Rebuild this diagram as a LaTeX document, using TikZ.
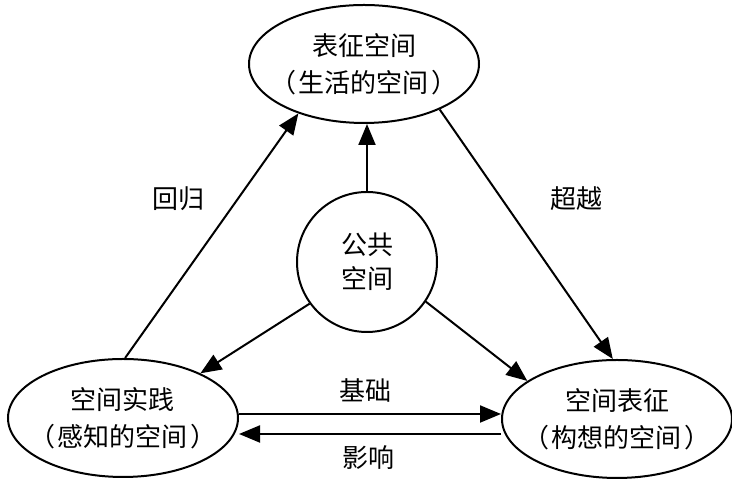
\documentclass[tikz,border=0pt]{standalone}
\usepackage{fontspec}
\setmainfont{Noto Sans CJK SC}
\usetikzlibrary{shapes.geometric,arrows.meta}
\newcommand{\lp}{（\kern2.5pt}
\newcommand{\rp}{\kern2.5pt）}
\begin{document}
\begin{tikzpicture}[x=1pt,y=1pt,
  every node/.style={font=\fontsize{26}{37}\selectfont},
  oval/.style={draw, ellipse, line width=2pt, minimum width=230pt, minimum height=118pt, inner xsep=-20pt, inner ysep=0pt, align=center},
  hub/.style={draw, circle, line width=2pt, minimum size=140pt, inner sep=0pt, align=center, font=\fontsize{26}{34}\selectfont},
  arr/.style={line width=2pt, -{Triangle[length=21pt,width=17pt]}},
  lbl/.style={inner sep=0pt}]
\useasboundingbox (0,0) rectangle (732,486);
\node[oval] (top) at (364,422) {表征空间\\\lp 生活的空间\rp};
\node[oval] (left) at (123,68) {空间实践\\\lp 感知的空间\rp};
\node[oval] (right) at (617,67) {空间表征\\\lp 构想的空间\rp};
\node[hub] (hub) at (367,224) {公共\\空间};
% connectors
\draw[arr] (hub.north) -- (hub.north |- top.south);
\draw[arr] (left.88) -- (top.217);
\draw[arr] (top.329) -- (right.94);
\draw[arr] (hub.216) -- (left.30);
\draw[arr] (hub.326) -- (right.157);
\coordinate (b1) at ([yshift=4pt]left.east);
\draw[arr] (b1) -- (b1 -| right.west);
\coordinate (y1) at ([yshift=-15pt]right.west);
\draw[arr] (y1) -- (y1 -| left.east);
% labels
\node[lbl] (l1) at (178,287) {回归};
\node[lbl] (l2) at (576,287) {超越};
\node[lbl] (l3) at (365,96) {基础};
\node[lbl] (l4) at (368,28) {影响};
\end{tikzpicture}
\end{document}
